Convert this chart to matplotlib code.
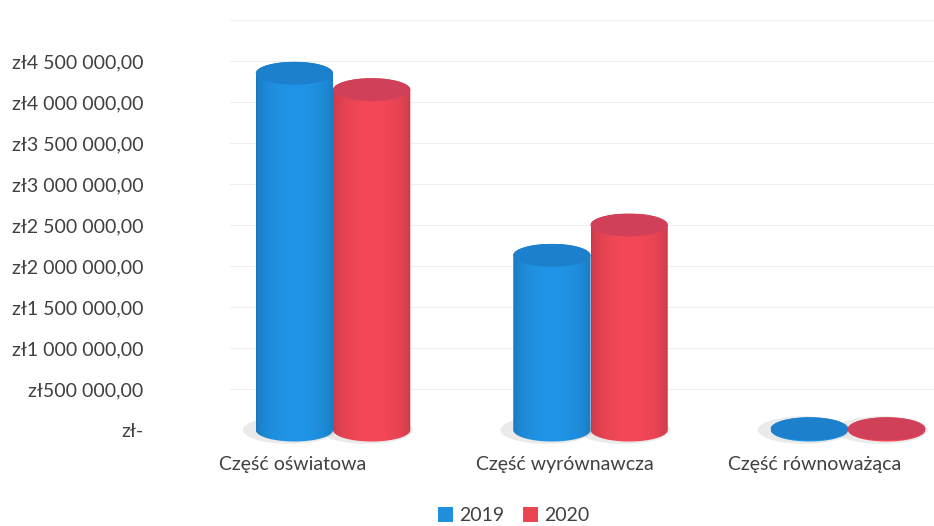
import numpy as np
import matplotlib
matplotlib.use("Agg")
import matplotlib.pyplot as plt
from matplotlib.path import Path
from matplotlib.patches import PathPatch, Ellipse, Patch

# dane
kategorie = ["Część oświatowa", "Część wyrównawcza", "Część równoważąca"]
lata = ["2019", "2020"]
wartosci_2019 = [4350000, 2130000, 15000]
wartosci_2020 = [4150000, 2500000, 15000]
tick_vals = [0, 500000, 1000000, 1500000, 2000000, 2500000,
             3000000, 3500000, 4000000, 4500000]
tick_labels = ["zł-", "zł500 000,00", "zł1 000 000,00", "zł1 500 000,00",
               "zł2 000 000,00", "zł2 500 000,00", "zł3 000 000,00",
               "zł3 500 000,00", "zł4 000 000,00", "zł4 500 000,00"]

kolory = {"2019": (0.12, 0.56, 0.87), "2020": (0.92, 0.27, 0.33)}
kolory_gora = {"2019": (0.11, 0.50, 0.80), "2020": (0.82, 0.25, 0.35)}

plt.rcParams['font.family'] = ['Lato', 'DejaVu Sans']

fig = plt.figure(figsize=(9.34, 5.26), dpi=100)
ax = fig.add_axes([0.1713, 0.1357, 0.8287, 0.8263])
ax.set_xlim(-0.672, 2.334)
ax.set_ylim(-300000, 5000000)

szer = 0.30
ry = 140000  # polowa wysokosci elipsy w jednostkach danych


def cylinder(ax, xc, h, rok, z):
    a = szer / 2
    x0, x1 = xc - a, xc + a
    # cien pod podstawa
    ax.add_patch(Ellipse((xc - 0.02, 0), szer * 1.2, ry * 2.4,
                         color="#c4c4c4", alpha=0.35, lw=0, zorder=2))
    t = np.linspace(np.pi, 2 * np.pi, 40)
    dol = np.column_stack([xc + a * np.cos(t), ry * np.sin(t)])
    t2 = np.linspace(0, np.pi, 40)
    gora = np.column_stack([xc + a * np.cos(t2), h + ry * np.sin(t2)])
    verts = np.vstack([dol, gora, dol[:1]])
    codes = [Path.MOVETO] + [Path.LINETO] * (len(verts) - 2) + [Path.CLOSEPOLY]
    body = PathPatch(Path(verts, codes), facecolor="none", edgecolor="none", zorder=z)
    ax.add_patch(body)
    # cieniowanie poziome
    s = np.linspace(0, 1, 64)
    f = 0.84 + 0.2 * np.sin(np.pi * s) ** 0.5
    base = np.array(kolory[rok])
    img = np.clip(base[None, :] * f[:, None], 0, 1)[None, :, :]
    im = ax.imshow(img, extent=(x0, x1, -ry, h + ry), aspect="auto",
                   interpolation="bilinear", zorder=z)
    im.set_clip_path(body)
    ax.add_patch(Ellipse((xc, h), szer, ry * 2, facecolor=kolory_gora[rok],
                         edgecolor="none", zorder=z + 0.1))


x = np.arange(len(kategorie))
for i in x:
    cylinder(ax, i - szer / 2, wartosci_2019[i], "2019", 3)
    cylinder(ax, i + szer / 2, wartosci_2020[i], "2020", 4)

# linie siatki (tylna sciana)
for v in tick_vals[1:] + [5000000]:
    ax.axhline(v, xmin=0.09, xmax=1, color="#efefef", lw=0.8, zorder=1)

for s in ax.spines.values():
    s.set_visible(False)
ax.set_yticks(tick_vals)
ax.set_yticklabels(tick_labels, fontsize=14, color="#404040")
ax.set_xticks(x - np.array([0.155, 0.10, 0.13]))
ax.set_xticklabels(kategorie, fontsize=14, color="#404040")
ax.tick_params(axis="y", length=0, pad=12)
ax.tick_params(axis="x", length=0, pad=1)

uchwyty = [Patch(facecolor=kolory[r], edgecolor="none", label=r) for r in lata]
fig.legend(handles=uchwyty, loc="lower center", bbox_to_anchor=(0.55, -0.03),
           ncol=2, frameon=False, fontsize=14, handlelength=0.75,
           handleheight=0.75, handletextpad=0.3, columnspacing=1.0,
           labelcolor="#404040")

fig.savefig("out.png", dpi=100, facecolor="white")
